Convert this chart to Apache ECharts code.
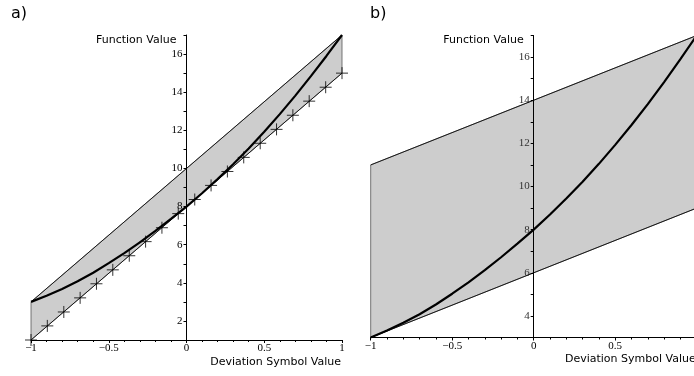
<!DOCTYPE html>
<html><head><meta charset="utf-8">
<script src="https://cdn.jsdelivr.net/npm/echarts@6/dist/echarts.min.js"></script>
<style>html,body{margin:0;padding:0;background:#fff}#c{width:694px;height:376px}</style>
</head><body><div id="c"></div>
<script>
// ---- data ----
const curveX = [-1,-0.9,-0.8,-0.7,-0.6,-0.5,-0.4,-0.3,-0.2,-0.1,0,0.1,0.2,0.3,0.4,0.5,0.6,0.7,0.8,0.9,1];
const curveY = [3,3.32,3.68,4.08,4.53,5.03,5.56,6.12,6.72,7.35,8,8.7,9.44,10.22,11.05,11.93,12.85,13.82,14.84,15.9,17];
const markerX = [-1,-0.895,-0.789,-0.684,-0.579,-0.474,-0.368,-0.263,-0.158,-0.053,0.053,0.158,0.263,0.368,0.474,0.579,0.684,0.789,0.895,1];
const markerY = [1,1.74,2.47,3.21,3.95,4.68,5.42,6.16,6.89,7.63,8.37,9.11,9.84,10.58,11.32,12.05,12.79,13.53,14.26,15];
const bandX = [-1,1];
const bandAUpper = [3,17];
const bandALower = [1,15];
const bandBUpper = [11,17];
const bandBLower = [3,9];
const yLabelsA = [2,4,6,8,10,12,14,16];
const yTicksA = [1,2,3,4,5,6,7,8,9,10,11,12,13,14,15,16,17];
const yLabelsB = [4,6,8,10,12,14,16];
const yTicksB = [3,4,5,6,7,8,9,10,11,12,13,14,15,16,17];
const xName = 'Deviation Symbol Value';
const yName = 'Function Value';

const pairs = (xs, ys) => xs.map((x,i)=>[x, ys[i]]);
const polyOf = (xs, lo, up) => pairs(xs, lo).concat(pairs(xs, up).reverse());

const chart = echarts.init(document.getElementById('c'), null, {renderer:'canvas'});
const serif = 'Liberation Serif';
const sans = 'DejaVu Sans';
const fmtX = v => (v < 0 ? '\u2212' + String(-v) : String(v));

const gridA = {left:31, top:35, width:311, bottom:36, outerBoundsMode:'none', containLabel:false};
const gridB = {left:370.7, top:35.5, width:326, bottom:38.5, outerBoundsMode:'none', containLabel:false};

function xAxisDef(gridIndex){
  return {
    type:'value', gridIndex, min:-1, max:1, interval:0.5, z:3,
    axisLine:{onZero:false, lineStyle:{color:'#000', width:1}},
    axisTick:{show:true, length:3, lineStyle:{color:'#000'}},
    minorTick:{show:true, splitNumber:5, length:2, lineStyle:{color:'#000'}},
    splitLine:{show:false}, minorSplitLine:{show:false},
    axisLabel:{margin:3, fontFamily:serif, fontSize:11, color:'#000', formatter:fmtX, showMinLabel:true, showMaxLabel:true}
  };
}
function yAxisDef(gridIndex, min, labels, ticks, labelColor, offset){
  return {
    type:'value', gridIndex, min, max:17, offset, z:3,
    axisLine:{onZero:false, lineStyle:{color:'#000', width:1}},
    axisTick:{show:true, length:3, customValues:ticks, lineStyle:{color:'#000'}},
    splitLine:{show:false},
    axisLabel:{margin:4, fontFamily:serif, fontSize:11, color:labelColor, customValues:labels}
  };
}
function band(idx, poly){
  return {
    type:'custom', xAxisIndex:idx, yAxisIndex:idx, z:1, silent:true, clip:false,
    data: poly,
    renderItem:(params, api) => {
      if (params.dataIndex !== 0) return null;
      const pts = poly.map(p => api.coord(p));
      return {type:'polygon', shape:{points:pts}, style:{fill:'#cdcdcd', stroke:'#555', lineWidth:0.8}};
    }
  };
}
function line(idx, data, width){
  return {type:'line', xAxisIndex:idx, yAxisIndex:idx, data, symbol:'none', silent:true, z:4,
    lineStyle:{color:'#000', width}, smooth:false};
}

chart.setOption({
  animation:false,
  title:[
    {text:'a)', left:11, top:6, padding:0, textStyle:{fontFamily:sans, fontSize:16, fontWeight:'normal', color:'#000'}},
    {text:'b)', left:370, top:6, padding:0, textStyle:{fontFamily:sans, fontSize:16, fontWeight:'normal', color:'#000'}}
  ],
  grid:[gridA, gridB],
  xAxis:[xAxisDef(0), xAxisDef(1)],
  yAxis:[yAxisDef(0, 1, yLabelsA, yTicksA, '#000', -155.5), yAxisDef(1, 3, yLabelsB, yTicksB, '#333', -163)],
  series:[
    band(0, polyOf(bandX, bandALower, bandAUpper)),
    line(0, pairs(bandX, bandAUpper), 0.8),
    line(0, pairs(bandX, bandALower), 0.8),
    line(0, pairs(curveX, curveY), 2.2),
    {type:'scatter', xAxisIndex:0, yAxisIndex:0, z:5, silent:true,
     data: pairs(markerX, markerY),
     symbol:'path://M0,5L10,5M5,0L5,10', symbolSize:12,
     itemStyle:{color:'none', borderColor:'#000', borderWidth:1}},
    band(1, polyOf(bandX, bandBLower, bandBUpper)),
    line(1, pairs(bandX, bandBUpper), 0.8),
    line(1, pairs(bandX, bandBLower), 0.8),
    line(1, pairs(curveX, curveY), 2.2)
  ]
});

// axis names placed relative to the axes' own coordinates
function addNames(){
  const g = [];
  [[0,1],[1,3]].forEach(([i, ymin]) => {
    const endX = chart.convertToPixel({xAxisIndex:i, yAxisIndex:i}, [1, ymin]);
    const topY = chart.convertToPixel({xAxisIndex:i, yAxisIndex:i}, [0, 17]);
    g.push({type:'text', x:endX[0] - 1, y:endX[1] + 22,
      style:{text:xName, fontFamily:sans, fontSize:11, fill:'#000', align:'right', verticalAlign:'middle'}});
    g.push({type:'text', x:topY[0] - 10, y:topY[1] + 5,
      style:{text:yName, fontFamily:sans, fontSize:11, fill:'#000', align:'right', verticalAlign:'middle'}});
  });
  chart.setOption({graphic:g});
}
addNames();
</script></body></html>
